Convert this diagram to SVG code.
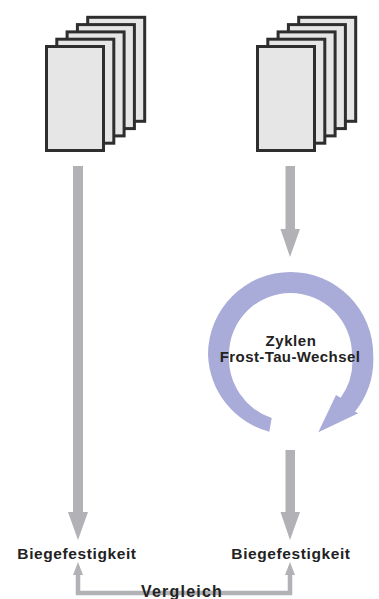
<svg xmlns="http://www.w3.org/2000/svg" width="379" height="599" viewBox="0 0 379 599">
<defs>
<style>
.sheet{fill:#e6e6e6;stroke:#2e2e2e;stroke-width:3}
.gray{fill:#b1b1b6}
.ring{fill:#a9abd9}
.lbl{font-family:"Liberation Sans",Arial,sans-serif;font-weight:bold;fill:#222;text-anchor:middle}
.conn{fill:none;stroke:#b1b1b6;stroke-width:4.5}
</style>
<g id="stackshape">
<rect class="sheet" x="87.7" y="17.3" width="57" height="104"/>
<rect class="sheet" x="77.4" y="24.6" width="57" height="104"/>
<rect class="sheet" x="67.1" y="31.9" width="57" height="104"/>
<rect class="sheet" x="56.8" y="39.2" width="57" height="104"/>
<rect class="sheet" x="46.5" y="46.5" width="57" height="104"/>
</g>
</defs>
<rect width="379" height="599" fill="#ffffff"/>
<g id="stack-left"><use href="#stackshape"/></g>
<g id="stack-right"><use href="#stackshape" transform="translate(211,0)"/></g>
<g id="cycle">
<path class="ring" d="M269.3,431.7 A82.6,82.6 0 0 1 208,354.6 A82.6,82.6 0 0 1 290.6,272 A82.6,82.6 0 0 1 373.2,354.6 A84,84 0 0 1 355,411.7 L358.3,413.3 L318.3,432.3 L336,395 L340.7,397.7 A62,62 0 0 0 352,354.5 A61.5,61.5 0 0 0 290.5,293 A61.5,61.5 0 0 0 229,354.5 A63,63 0 0 0 271.7,418 Z"/>
<text class="lbl" x="291" y="346" font-size="15" letter-spacing="0.6">Zyklen</text>
<text class="lbl" x="290" y="362" font-size="15" letter-spacing="0.4">Frost-Tau-Wechsel</text>
</g>
<g id="connectors">
<path class="gray" d="M73,166 H83 V512 H88 L78,540 L68,512 H73 Z"/>
<path class="gray" d="M285.5,166 H295 V229 H300 L290,257 L280.5,229 H285.5 Z"/>
<path class="gray" d="M285.5,450 H295 V512 H300 L290,540 L280.5,512 H285.5 Z"/>
<path class="conn" d="M78,574 V593 H290 V574"/>
<path class="gray" d="M78,562 L83,575 H73 Z"/>
<path class="gray" d="M290,562 L295,575 H285 Z"/>
</g>
<g id="node-biege-left"><text class="lbl" x="77" y="559" font-size="15.5" letter-spacing="0.6">Biegefestigkeit</text></g>
<g id="node-biege-right"><text class="lbl" x="291" y="559" font-size="15.5" letter-spacing="0.6">Biegefestigkeit</text></g>
<g id="label-vergleich"><text class="lbl" x="182" y="597" font-size="16" letter-spacing="1.2">Vergleich</text></g>
</svg>
